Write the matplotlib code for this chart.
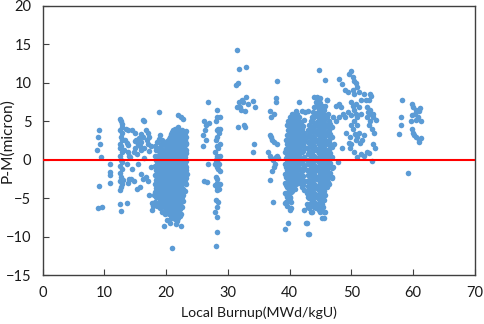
import matplotlib
matplotlib.use("Agg")
import matplotlib.pyplot as plt

plt.rcParams['font.family'] = ['Lato', 'DejaVu Sans']

# ---- sparse groups (burnup, P-M) ----
a_x = [8.8, 9.0, 9.2, 9.3, 9.5, 9.2, 9.0, 9.6, 10.9, 10.9, 10.9, 10.9]
a_y = [1.3, 3.0, 3.8, 2.0, 0.3, -3.4, -6.3, -6.1, -0.5, -1.6, -2.0, -3.0]

b_x = [12.6, 12.7, 12.8, 12.9, 12.6, 12.8, 12.7, 12.9, 12.5, 12.7, 12.6, 12.8, 12.5,
       12.7, 12.9, 12.6, 12.8, 12.5, 12.7, 12.6, 12.9, 12.7, 12.5, 12.6, 12.7,
       13.6, 13.8, 13.9, 14.1, 13.7, 14.0, 13.8, 13.6, 13.5, 13.9, 13.3, 13.2, 13.0]
b_y = [5.3, 5.0, 4.6, 4.2, 3.9, 3.5, 3.0, 2.5, 2.1, 1.8, 1.5, 1.0, 0.5,
       0.0, -0.3, -0.8, -1.2, -1.7, -2.3, -2.8, -3.2, -3.6, -3.9, -5.7, -6.7,
       2.2, 1.9, 1.0, 0.3, -0.5, -2.5, -3.0, -5.6, 4.0, 3.8, 2.6, 1.3, -2.6]

c_x = [14.5, 15.0, 15.2, 15.5, 15.8, 16.0, 16.2, 16.5, 16.8, 17.0, 17.2, 15.0, 14.8,
       15.3, 16.0, 16.5, 17.0, 17.5, 14.3, 14.8, 15.3, 15.8, 16.0, 16.2, 16.8, 17.0,
       17.3, 17.5, 17.8, 17.8, 15.5, 16.5, 14.0, 14.5, 15.6, 16.3, 16.9, 14.9, 15.9, 17.3]
c_y = [3.9, 3.5, 2.5, 2.0, 1.8, 2.3, 5.1, 5.0, 3.8, 3.5, 3.0, 1.5, 1.0,
       0.8, 1.2, 1.5, 2.0, 1.8, -2.5, -2.8, -3.8, -3.5, -1.8, -2.5, -2.2, -2.8,
       -4.6, -1.0, -6.5, -5.6, -0.5, 0.2, 0.5, -1.2, 2.8, 2.9, 2.6, 2.4, 3.3, 1.1]

# dense group around 18-23.5 (column positions and values read per column)
d_cols = [18.2, 18.6, 19.0, 19.4, 19.8, 20.2, 20.6, 21.0, 21.4, 21.8, 22.2, 22.6, 23.0, 23.3,
          18.4, 18.8, 19.2, 19.6, 20.0, 20.4, 20.8, 21.2, 21.6, 22.0, 22.4, 22.8, 23.15]
d_vals = [
    [1.8, 0.5, -0.8, -2.0, -3.1, -4.2, -5.5],
    [2.3, 1.2, 0.2, -0.6, -1.5, -2.4, -3.3, -4.1, -4.9, -6.0],
    [3.2, 1.7, 0.9, -0.2, -1.1, -1.9, -2.7, -3.5, -4.4, -5.2, -6.3],
    [2.6, 1.4, 0.4, -0.4, -1.3, -2.2, -3.0, -3.9, -4.7, -5.5, -6.8],
    [1.9, 1.0, 0.1, -0.9, -1.7, -2.5, -3.4, -4.2, -5.0, -5.9, -7.0],
    [2.4, 1.5, 0.6, -0.3, -1.2, -2.0, -2.9, -3.7, -4.5, -5.4, -6.4, -7.8],
    [3.0, 2.0, 1.1, 0.2, -0.7, -1.6, -2.4, -3.3, -4.1, -5.0, -5.8, -6.9, -8.2],
    [3.6, 2.6, 1.7, 0.8, -0.1, -1.0, -1.9, -2.8, -3.6, -4.4, -5.3, -6.2, -7.2],
    [4.0, 3.1, 2.2, 1.3, 0.4, -0.5, -1.4, -2.3, -3.1, -3.9, -4.8, -5.7, -6.6, -7.7],
    [3.7, 2.8, 1.9, 1.0, 0.1, -0.8, -1.7, -2.6, -3.4, -4.2, -5.1, -6.0, -7.0, -8.0],
    [3.4, 2.5, 1.6, 0.7, -0.2, -1.1, -2.0, -2.9, -3.7, -4.6, -5.5, -6.4, -7.3],
    [3.9, 3.0, 2.1, 1.2, 0.3, -0.6, -1.5, -2.4, -3.2, -4.0, -4.9, -6.1],
    [3.5, 2.6, 1.4, 0.4, -0.7, -1.8, -2.9, -4.1],
    [3.7, 1.2, -1.0, -3.2],
    [1.3, -0.1, -1.4, -2.6, -3.7, -4.8],
    [2.7, 0.6, -0.3, -1.0, -1.9, -2.9, -3.8, -4.6, -5.6],
    [2.1, 1.3, 0.1, -0.8, -1.6, -2.4, -3.2, -4.1, -4.9, -5.8],
    [2.2, 0.8, -0.1, -0.9, -1.8, -2.7, -3.5, -4.4, -5.2, -6.2],
    [2.0, 1.2, 0.3, -0.6, -1.5, -2.3, -3.2, -4.0, -4.8, -5.7, -6.7],
    [2.7, 1.8, 0.9, 0.0, -0.9, -1.8, -2.6, -3.5, -4.3, -5.2, -6.0, -7.1],
    [3.3, 2.3, 1.4, 0.5, -0.4, -1.3, -2.1, -3.0, -3.9, -4.7, -5.6, -6.5, -7.6],
    [3.8, 2.9, 2.0, 1.0, 0.1, -0.8, -1.6, -2.5, -3.4, -4.2, -5.0, -5.9, -6.9],
    [3.5, 2.5, 1.6, 0.7, -0.2, -1.1, -2.0, -2.9, -3.7, -4.5, -5.4, -6.3, -7.3],
    [4.2, 3.1, 2.2, 1.3, 0.4, -0.5, -1.4, -2.3, -3.1, -4.0, -4.8, -5.7, -6.7, -7.6],
    [3.7, 2.8, 1.9, 1.0, 0.0, -0.9, -1.8, -2.6, -3.5, -4.3, -5.2, -6.0, -7.0],
    [3.3, 2.4, 1.7, 0.8, -0.3, -1.2, -2.1, -3.0, -3.8, -4.6, -5.4],
    [2.9, 2.0, 0.9, -0.2, -1.4, -2.4],
]
d_out_x = [18.9, 22.0, 22.4, 22.7, 20.9, 19.7, 21.6, 22.4, 18.0, 17.9, 23.4, 23.2]
d_out_y = [6.2, 5.8, 5.5, 5.3, -11.5, -8.6, -8.3, -8.6, -4.6, -6.0, -1.8, 2.2]

e_x = [26.0, 26.2, 26.5, 26.8, 26.3, 26.0, 26.5, 26.8, 26.2, 26.7, 27.0]
e_y = [1.8, 5.0, 4.5, 7.5, 3.8, 3.2, 2.5, -0.5, -2.8, -2.9, 4.8]

f_x = [28.2, 28.3, 28.1, 28.4, 28.2, 28.3, 28.1, 28.2, 28.4, 28.0, 28.2, 28.3, 28.1,
       28.2, 28.0, 28.3, 28.2, 28.4, 28.1, 28.2, 28.3, 28.0, 28.2, 28.4, 28.3, 28.1,
       28.4, 28.2, 28.0, 28.2, 28.3, 28.1,
       28.7, 28.8, 28.6, 28.7, 28.8, 28.6, 28.7, 28.8, 28.6]
f_y = [6.5, 5.5, 5.0, 4.0, 3.8, 3.0, 2.5, 1.8, 1.5, 1.0, 0.5, 0.2, 0.0,
       -0.2, -0.5, -0.8, -1.0, -1.2, -2.2, -2.5, -3.0, -3.3, -3.5, -3.8, -4.0, -5.3,
       -5.5, -6.2, -6.8, -7.5, -9.4, -11.2,
       5.5, 4.0, 3.5, 2.0, 0.5, -0.5, -1.5, -3.2, -3.8]

g_x = [31.5, 31.8, 33.0, 31.4, 31.6, 31.8, 32.0, 32.2, 32.5, 32.8, 33.0, 33.2, 34.0,
       34.4, 31.6, 32.6, 32.8, 34.0, 34.3, 31.5, 32.3]
g_y = [14.3, 11.8, 12.0, 9.7, 10.0, 7.5, 6.8, 6.5, 7.5, 6.3, 8.2, 7.2, 7.6,
       6.8, 4.2, 4.5, 4.2, 1.0, 2.0, 6.8, 7.8]

h_x = [36.8, 37.0, 37.5, 37.8, 38.0, 37.8, 36.8, 37.0, 37.2, 37.5, 37.9, 36.5, 36.8,
       37.0, 37.3, 37.6, 37.2, 37.5, 38.0, 38.2, 36.8, 37.3, 37.8]
h_y = [6.3, 5.5, 6.0, 7.5, 10.2, 8.0, 3.2, 3.0, 2.5, 2.3, 2.0, 1.0, 0.5,
       0.2, 0.0, -0.5, -1.5, -1.0, 0.5, 0.2, -2.6, -5.5, 0.3]

# dense group around 39-42.5
i_cols = [39.2, 39.6, 40.0, 40.4, 40.8, 41.2, 41.6, 42.0, 42.4,
          39.4, 39.8, 40.2, 40.6, 41.0, 41.4, 41.8, 42.2]
i_vals = [
    [1.0, -0.5, -1.8, -3.0, -4.3, -5.6],
    [4.5, 3.2, 2.0, 0.8, -0.3, -1.3, -2.4, -3.6, -4.8, -6.0],
    [5.5, 4.4, 3.3, 2.3, 1.3, 0.3, -0.6, -1.6, -2.6, -3.6, -4.9, -6.3],
    [5.9, 4.8, 3.8, 2.8, 1.8, 0.8, -0.2, -1.2, -2.2, -3.2, -4.1],
    [5.3, 4.3, 3.2, 2.2, 1.2, 0.2, -0.8, -1.8, -2.8, -3.8],
    [6.0, 4.9, 3.9, 2.9, 1.9, 0.9, -0.1, -1.4, -2.5],
    [5.5, 4.4, 3.3, 2.4, 1.5, 0.5, -0.6, -2.0, -3.0],
    [6.3, 4.0, 3.0, 2.0, 1.0, -0.2, -1.5, -2.6, -3.6],
    [5.2, 3.5, 2.6, 1.6, 0.3, -1.0, -2.8, -4.0, -6.6],
    [2.6, 1.4, 0.2, -1.0, -2.2, -3.3, -4.5],
    [5.0, 3.8, 2.6, 1.5, 0.4, -0.8, -1.9, -3.0, -4.2, -5.4],
    [5.0, 3.9, 2.8, 1.8, 0.8, -0.1, -1.1, -2.1, -3.1, -4.2, -5.5],
    [5.4, 4.3, 3.3, 2.3, 1.3, 0.3, -0.7, -1.7, -2.7, -3.6],
    [5.7, 4.8, 3.7, 2.7, 1.7, 0.7, -0.3, -1.3, -2.3, -3.2],
    [5.2, 4.4, 3.4, 2.4, 1.4, 0.4, -0.8, -1.9],
    [4.9, 3.8, 2.8, 2.0, 1.0, -0.1, -1.2, -2.4],
    [4.4, 3.1, 2.1, 1.1, -0.6, -2.1, -3.3],
]
i_out_x = [39.2, 39.7, 40.0, 40.3, 39.5, 40.0, 41.5, 41.0, 42.5, 43.0]
i_out_y = [-9.0, -8.2, -6.5, -6.3, -5.5, -5.0, 7.5, 6.3, 6.2, 6.3]

# dense group around 42.8-47
j_cols = [42.8, 43.2, 43.6, 44.0, 44.4, 44.8, 45.2, 45.6, 46.0, 46.4, 46.8,
          43.0, 43.4, 43.8, 44.2, 44.6, 45.0, 45.4, 45.8, 46.2, 46.6]
j_vals = [
    [3.0, 1.5, 0.0, -1.3, -2.8, -4.3, -5.8, -8.2],
    [4.5, 3.4, 2.2, 1.0, -0.2, -1.4, -2.6, -3.8, -5.0, -6.3, -9.6],
    [5.6, 4.3, 3.0, 1.9, 0.7, -0.5, -1.7, -2.9, -4.1, -5.3, -6.8],
    [6.8, 5.5, 4.2, 3.0, 1.8, 0.5, -0.7, -1.9, -3.1, -4.3, -5.5, -6.2],
    [8.2, 7.2, 6.0, 4.9, 3.7, 2.6, 1.4, 0.2, -1.0, -2.2, -3.4, -4.6, -5.8],
    [7.8, 6.6, 5.4, 4.3, 3.2, 2.0, 0.9, -0.3, -1.5, -2.7, -3.9, -5.1, -6.5],
    [7.0, 5.9, 4.8, 3.6, 2.5, 1.3, 0.2, -1.0, -2.2, -3.4, -4.6, -5.7, -7.6],
    [6.4, 5.2, 4.1, 3.0, 1.8, 0.7, -0.5, -1.7, -2.9, -4.1, -5.3, -6.8],
    [7.7, 5.5, 4.4, 3.3, 2.2, 1.0, -0.1, -1.3, -2.5, -3.6],
    [5.0, 3.8, 2.6, 1.4, 0.3, -0.9, -2.1, -3.2],
    [4.2, 2.9, 1.6, 0.4, -1.1, -2.4],
    [3.8, 2.3, 0.8, -0.6, -2.0, -3.4, -4.8, -6.2],
    [5.0, 3.9, 2.8, 1.6, 0.4, -0.8, -2.0, -3.2, -4.4, -5.6],
    [6.2, 4.9, 3.6, 2.4, 1.2, 0.0, -1.2, -2.4, -3.6, -4.8, -6.0],
    [7.5, 6.1, 4.8, 3.6, 2.4, 1.2, -0.1, -1.3, -2.5, -3.7, -4.9, -6.0],
    [8.0, 6.9, 5.7, 4.6, 3.4, 2.3, 1.1, -0.1, -1.3, -2.5, -3.7, -4.9, -6.1],
    [7.4, 6.2, 5.1, 4.0, 2.9, 1.7, 0.6, -0.6, -1.8, -3.0, -4.2, -5.4, -6.8],
    [6.8, 5.6, 4.5, 3.3, 2.2, 1.0, -0.1, -1.3, -2.5, -3.7, -4.9, -6.1],
    [7.0, 5.8, 4.7, 3.6, 2.5, 1.3, 0.2, -1.0, -2.2, -3.4, -4.6],
    [5.9, 4.4, 3.2, 2.0, 0.7, -0.5, -1.7, -2.9],
    [4.6, 3.3, 2.0, 0.9, -0.4, -1.7],
]
j_out_x = [44.8, 45.7, 44.0, 45.0, 46.0, 43.0, 42.6, 43.5, 44.3, 45.0, 45.5, 45.8]
j_out_y = [11.7, 10.3, 8.2, 8.0, 7.7, -9.6, -8.2, -6.8, -6.3, -6.5, -7.6, -6.8]

k_x = [48.0, 48.5, 49.0, 49.5, 47.5, 48.0, 48.3, 48.7, 47.0, 47.5, 48.0, 49.0, 49.5,
       47.2, 47.8, 47.0, 46.8, 48.5, 49.2, 49.8, 49.7]
k_y = [10.5, 9.8, 9.0, 8.8, 7.0, 7.2, 6.8, 6.0, 5.5, 5.0, 5.5, 5.5, 6.2,
       2.0, -0.3, -1.0, -2.3, 1.5, 3.5, 3.0, 2.2]

l_x = [49.7, 50.0, 50.2, 50.5, 50.8, 51.0, 50.3, 50.5, 51.2, 51.5, 52.0, 52.3, 50.0,
       50.2, 50.5, 50.8, 51.0, 50.5, 50.0, 50.3, 51.0, 51.3, 51.0, 50.7, 50.0, 49.8,
       50.5, 51.0, 51.5, 52.0, 52.5, 52.8, 51.8, 52.0, 50.8, 51.3, 51.6, 49.9, 50.6, 51.4]
l_y = [11.2, 11.5, 10.8, 10.2, 10.0, 9.5, 9.0, 8.5, 8.8, 7.8, 8.5, 7.8, 7.5,
       7.0, 6.5, 6.0, 5.5, 5.0, 4.5, 4.0, 4.5, 3.5, 3.0, 2.5, 2.0, 1.5,
       1.0, 0.3, 0.8, 0.5, 1.0, 0.9, 2.5, 3.2, 7.3, 6.8, 5.9, 5.8, 3.4, 2.2]

m_x = [52.8, 53.0, 53.2, 52.5, 53.0, 53.5, 52.5, 53.0, 53.5, 54.0, 52.8, 53.3, 53.6,
       53.5, 53.8, 53.3, 53.2, 52.7]
m_y = [7.8, 8.5, 8.3, 6.8, 6.5, 6.0, 5.5, 5.0, 5.5, 5.2, 4.5, 4.0, 3.5,
       2.0, 1.5, -0.2, 6.0, 6.2]

n_x = [58.2, 57.8, 58.0, 58.0, 59.2, 59.8, 60.0, 60.5, 61.0, 61.2, 59.8, 60.3, 60.8,
       61.3, 59.8, 60.0, 60.2, 60.5, 61.0, 61.3, 59.7, 60.5, 61.0]
n_y = [7.7, 3.3, 5.5, 4.5, -1.7, 7.2, 6.8, 6.5, 6.3, 6.7, 5.8, 6.0, 5.5,
       5.0, 4.0, 3.5, 3.2, 3.0, 2.5, 2.8, 5.0, 5.2, 2.3]

x_ticks = [0, 10, 20, 30, 40, 50, 60, 70]
y_ticks = [-15, -10, -5, 0, 5, 10, 15, 20]

# ---- assemble ----
xs, ys = [], []
for gx, gy in [(a_x, a_y), (b_x, b_y), (c_x, c_y), (d_out_x, d_out_y), (e_x, e_y),
               (f_x, f_y), (g_x, g_y), (h_x, h_y), (i_out_x, i_out_y),
               (j_out_x, j_out_y), (k_x, k_y), (l_x, l_y), (m_x, m_y), (n_x, n_y)]:
    xs += gx
    ys += gy
for cols, vals in [(d_cols, d_vals), (i_cols, i_vals), (j_cols, j_vals)]:
    for cx, cv in zip(cols, vals):
        xs += [cx] * len(cv)
        ys += cv

fig = plt.figure(figsize=(4.84, 3.24), dpi=100)
ax = fig.add_axes([0.088, 0.151, 0.893, 0.831])
ax.scatter(xs, ys, s=16, color='#5B9BD5', linewidths=0, zorder=2)
ax.plot([0, 70], [0, 0], color='#FF0000', lw=1.5, zorder=3)

ax.set_xlim(0, 70)
ax.set_ylim(-15, 20)
ax.set_xticks(x_ticks)
ax.set_yticks(y_ticks)
ax.tick_params(direction='in', length=4, width=0.8, color='#404040',
               labelsize=10.5, labelcolor='#1a1a1a')
ax.tick_params(axis='x', pad=8)
ax.tick_params(axis='y', pad=8)
for s in ax.spines.values():
    s.set_color('#404040')
    s.set_linewidth(1.0)
ax.set_xlabel('Local Burnup(MWd/kgU)', fontsize=10.2, color='#1a1a1a')
ax.set_ylabel('P-M(micron)', fontsize=11.2, color='#1a1a1a')
ax.xaxis.set_label_coords(0.5, -0.115)
ax.yaxis.set_label_coords(-0.066, 0.5)

fig.savefig('out.png', dpi=100)
